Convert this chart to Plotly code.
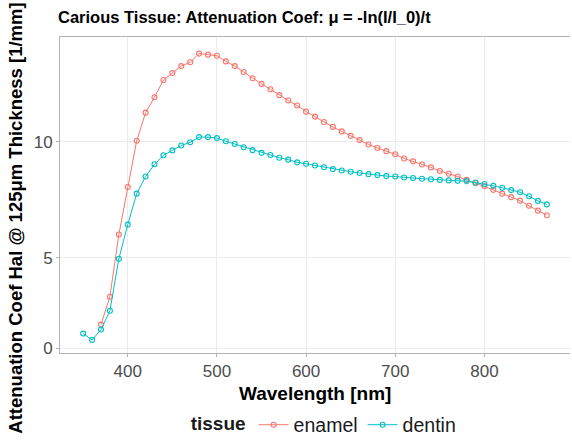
import numpy as np
import plotly.graph_objects as go

# Wavelengths (nm) and attenuation coefficients (1/mm) per tissue
wavelength_enamel = list(range(370, 880, 10))
enamel = [1.62, 3.12, 6.06, 8.12, 10.03, 11.16, 11.77, 12.44, 12.71, 12.98,
          13.13, 13.46, 13.42, 13.38, 13.16, 12.98, 12.75, 12.51, 12.29, 12.08,
          11.85, 11.64, 11.44, 11.20, 11.00, 10.79, 10.59, 10.41, 10.23, 10.06,
          9.88, 9.74, 9.61, 9.48, 9.31, 9.19, 9.06, 8.94, 8.79, 8.68,
          8.56, 8.42, 8.28, 8.16, 8.00, 7.84, 7.69, 7.54, 7.32, 7.11, 6.91]

wavelength_dentin = list(range(350, 880, 10))
dentin = [1.08, 0.67, 1.33, 2.39, 4.96, 6.50, 7.84, 8.56, 9.07, 9.44,
          9.64, 9.84, 9.97, 10.18, 10.18, 10.14, 10.01, 9.90, 9.77, 9.65,
          9.54, 9.45, 9.34, 9.26, 9.15, 9.09, 9.02, 8.95, 8.87, 8.81,
          8.76, 8.71, 8.66, 8.62, 8.58, 8.56, 8.52, 8.50, 8.47, 8.45,
          8.42, 8.40, 8.38, 8.37, 8.31, 8.25, 8.17, 8.09, 7.99, 7.90,
          7.73, 7.53, 7.38]

y_ticks = [0, 5, 10]
x_ticks = [400, 500, 600, 700, 800]

# power-scaled y axis
POWER = 1.1941


def scale_y(values):
    v = np.asarray(values, dtype=float)
    return np.sign(v) * np.abs(v) ** POWER


COL_ENAMEL = "#F8766D"
COL_DENTIN = "#00BFC4"
FONT = "Liberation Sans, Arial, Helvetica, sans-serif"

fig = go.Figure()
for name, xs, ys, col in [("enamel", wavelength_enamel, enamel, COL_ENAMEL),
                          ("dentin", wavelength_dentin, dentin, COL_DENTIN)]:
    fig.add_trace(go.Scatter(
        x=xs, y=scale_y(ys), customdata=ys, name=name,
        mode="lines+markers",
        line=dict(color=col, width=1),
        marker=dict(symbol="circle-open", size=5, color=col, line=dict(width=1.1)),
        hovertemplate="%{x} nm: %{customdata}<extra>" + name + "</extra>",
    ))

fig.update_layout(
    width=572, height=446,
    margin=dict(l=60, r=2, t=37, b=87),
    paper_bgcolor="white", plot_bgcolor="white",
    font=dict(family=FONT, color="#000000"),
    title=dict(text="<b>Carious Tissue: Attenuation Coef: μ = -ln(I/I_0)/t</b>",
               x=58 / 572, xanchor="left", y=1 - 17 / 446, yanchor="middle",
               font=dict(size=16.5, color="#000000")),
    showlegend=True,
    legend=dict(orientation="h", x=0.52, xanchor="center", y=-0.228, yanchor="middle",
                title=dict(text="<b>tissue</b>", font=dict(size=19)),
                font=dict(size=19.5, color="#1a1a1a"), itemwidth=30,
                tracegroupgap=0),
)

fig.update_xaxes(
    range=[324, 896], tickvals=x_ticks, ticktext=[str(t) for t in x_ticks],
    showgrid=True, gridcolor="#EBEBEB", gridwidth=1, zeroline=False,
    showline=True, linecolor="#B3B3B3", linewidth=1, mirror=True,
    ticks="outside", ticklen=3, tickcolor="#B3B3B3",
    tickfont=dict(size=17, color="#4D4D4D"),
)
fig.update_yaxes(
    range=[-0.371, 23.55], tickvals=scale_y(y_ticks), ticktext=[str(t) for t in y_ticks],
    showgrid=True, gridcolor="#EBEBEB", gridwidth=1, zeroline=False,
    showline=True, linecolor="#B3B3B3", linewidth=1,
    ticks="outside", ticklen=3, tickcolor="#B3B3B3",
    tickfont=dict(size=17, color="#4D4D4D"),
)

fig.add_annotation(text="<b>Wavelength [nm]</b>", xref="paper", yref="paper",
                   x=0.5, y=-0.127, xanchor="center", yanchor="middle",
                   showarrow=False, font=dict(size=19, color="#000000"))
fig.add_annotation(text="<b>Attenuation Coef Hal @ 125μm Thickness [1/mm]</b>",
                   xref="paper", yref="paper", x=-0.088, y=0.4255,
                   xanchor="center", yanchor="middle", textangle=-90,
                   showarrow=False, font=dict(size=18.5, color="#000000"))

fig.write_html("out.html")
